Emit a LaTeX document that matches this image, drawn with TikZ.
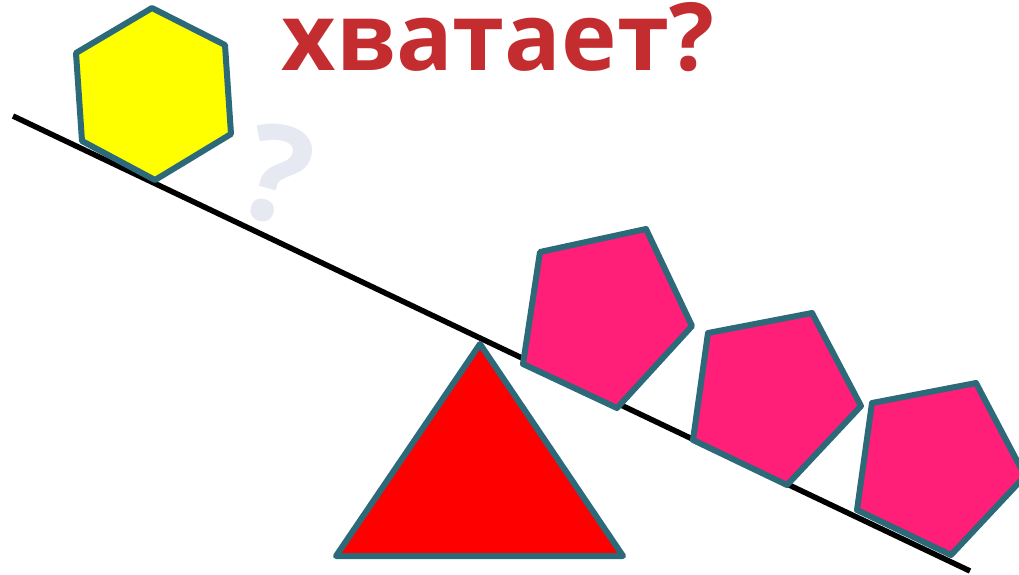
\documentclass[tikz,border=0pt]{standalone}
\usepackage{fontspec}
\setmainfont{Open Sans}
\definecolor{edgeteal}{RGB}{44,106,122}
\definecolor{titlered}{RGB}{196,45,48}
\definecolor{hexyellow}{RGB}{255,255,0}
\definecolor{pentpink}{RGB}{255,30,120}
\definecolor{trired}{RGB}{255,0,0}
\definecolor{qgray}{RGB}{230,233,241}
\tikzset{
  shapeedge/.style={draw=edgeteal, line width=6pt, line join=round},
  beam/.style={draw=black, line width=5.5pt},
}
\begin{document}
\begin{tikzpicture}[x=1pt,y=-1pt]
\useasboundingbox (0,0) rectangle (1019,574);
\clip (0,0) rectangle (1019,574);
% beam
\coordinate (bl) at (13,116);
\coordinate (br) at (970,571);
\draw[beam] (bl) -- (br);
% question mark
\node[font=\bfseries\fontsize{135}{135}\selectfont, text=qgray, rotate=-15, inner sep=0pt] (qm) at (277,174) {?};
% hexagon
\draw[shapeedge, fill=hexyellow] (152,8) -- (225,45) -- (231,134) -- (155,180) -- (82,141) -- (76,53) -- cycle;
% triangle
\draw[shapeedge, fill=trired] (480,344) -- (623,556) -- (336,556) -- cycle;
% pentagons
\draw[shapeedge, fill=pentpink] (540,252) -- (646,229) -- (692,326) -- (617,408) -- (523,364) -- cycle;
\draw[shapeedge, fill=pentpink] (708,333) -- (812,313) -- (861,406) -- (787,485) -- (693,440) -- cycle;
\draw[shapeedge, fill=pentpink] (872,403) -- (976,383) -- (1025,476) -- (951,555) -- (857,510) -- cycle;
% title
\node[font=\bfseries\fontsize{94}{94}\selectfont, text=titlered, anchor=base, inner sep=0pt, text height=64pt, text depth=0pt] (title) at (498,70) {хватает?};
\end{tikzpicture}
\end{document}
